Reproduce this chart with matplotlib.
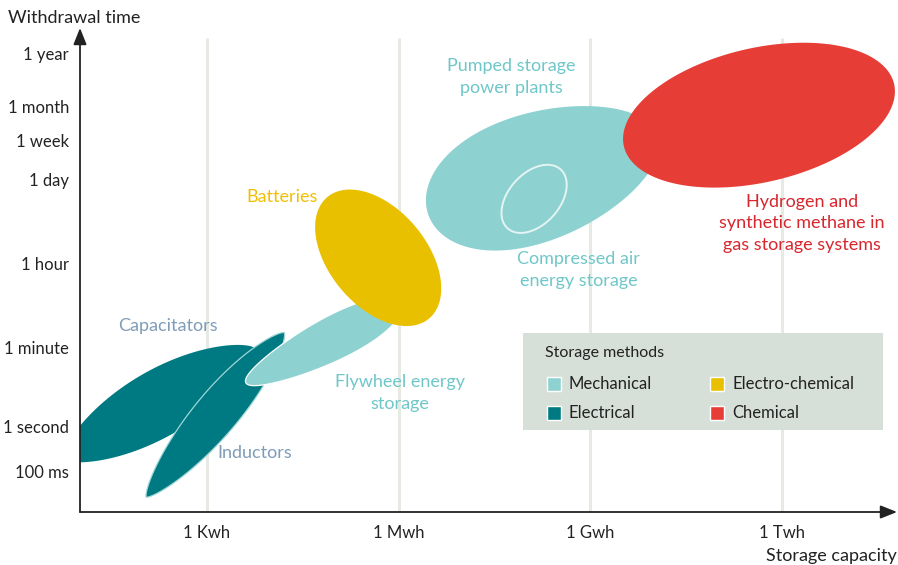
import numpy as np
import matplotlib
matplotlib.use("Agg")
import matplotlib.pyplot as plt
from matplotlib.patches import Polygon, Rectangle
from matplotlib.transforms import Affine2D

plt.rcParams['font.family'] = ['Lato', 'DejaVu Sans']

# ---- axis data ----
cap_tick_log10_wh = [3, 6, 9, 12]
cap_tick_labels = ["1 Kwh", "1 Mwh", "1 Gwh", "1 Twh"]
time_tick_levels = [-1.0, 0.0, 1.76, 3.64, 5.49, 6.36, 7.13, 8.31]
time_tick_labels = ["100 ms", "1 second", "1 minute", "1 hour", "1 day", "1 week", "1 month", "1 year"]

# ---- technologies (capacity in log10 Wh, time in axis levels) ----
tech_names = ["Capacitators", "Inductors", "Flywheel", "Batteries", "Pumped storage", "Hydrogen"]
tech_method = ["Electrical", "Electrical", "Mechanical", "Electro-chemical", "Mechanical", "Chemical"]
cap_center = [2.24, 3.13, 4.82, 5.68, 8.26, 11.64]
time_center = [0.52, 0.27, 1.86, 3.76, 5.60, 6.93]
cap_span = [1.74, 1.68, 1.36, 1.24, 1.90, 2.17]
thickness = [0.52, 0.34, 0.34, 0.76, 1.00, 1.05]
tilt_deg = [30, 50, 27, -50, 19, 13]
asym = [0.0, 0.05, 0.22, 0.0, -0.12, 0.0]
pointy = [0.45, 0.45, 0.0, 0.0, 0.0, 0.0]

# compressed air (outline inside pumped storage)
caes_center = (8.12, 5.07)
caes_span, caes_thick, caes_tilt = 0.62, 0.40, 48

method_names = ["Mechanical", "Electrical", "Electro-chemical", "Chemical"]
method_colors = {"Mechanical": "#8ed1d1", "Electrical": "#007a82",
                 "Electro-chemical": "#e9c000", "Chemical": "#e63d36"}

W, H, DPI = 898, 565, 100
fig = plt.figure(figsize=(W / DPI, H / DPI), dpi=DPI)
ax_l, ax_r, ax_b, ax_t = 80, 897, 512, 28
ax = fig.add_axes([ax_l / W, (H - ax_b) / H, (ax_r - ax_l) / W, (ax_b - ax_t) / H])
xlim = (1.013, 13.8)
ylim = (-1.889, 8.867)
ax.set_xlim(*xlim)
ax.set_ylim(*ylim)
for s in ax.spines.values():
    s.set_visible(False)

k = ((ax_r - ax_l) / (xlim[1] - xlim[0])) / ((ax_b - ax_t) / (ylim[1] - ylim[0]))


def blob(cx, cy, a, b, ang, e=0.0, p=0.0, **kw):
    t = np.linspace(0, 2 * np.pi, 400)
    x = a * np.cos(t)
    y = b * np.sin(t) * np.abs(np.sin(t)) ** p * (1 + e * np.cos(t))
    tr = Affine2D().rotate_deg(ang).scale(1, k).translate(cx, cy) + ax.transData
    poly = Polygon(np.column_stack([x, y]), closed=True, transform=tr, **kw)
    ax.add_patch(poly)
    return poly


# gridlines
grid_top = (ylim[1] - ylim[0]) * (1 - (38 - ax_t) / (ax_b - ax_t)) + ylim[0]
for xv in cap_tick_log10_wh:
    ax.plot([xv, xv], [ylim[0], grid_top], color="#e5eae3", lw=2.2, zorder=0.5, solid_capstyle="butt")

zorders = [1, 2, 3, 4, 3, 6]
edges = ["none", "#9fd6d6", "#ffffff", "none", "none", "none"]
for i, name in enumerate(tech_names):
    blob(cap_center[i], time_center[i], cap_span[i], thickness[i], tilt_deg[i],
         asym[i], pointy[i], facecolor=method_colors[tech_method[i]],
         edgecolor=edges[i], lw=0.9, zorder=zorders[i])

blob(caes_center[0], caes_center[1], caes_span, caes_thick, caes_tilt,
     facecolor="none", edgecolor="#e4f4f3", lw=1.4, zorder=5)

# axes arrows
ax.annotate("", xy=(0, 1.0), xytext=(0, 0), xycoords="axes fraction",
            arrowprops=dict(arrowstyle="-|>,head_length=1.0,head_width=0.4", color="#222222", lw=1.3,
                            shrinkA=0, shrinkB=0), annotation_clip=False)
ax.annotate("", xy=(1.0, 0), xytext=(0, 0), xycoords="axes fraction",
            arrowprops=dict(arrowstyle="-|>,head_length=1.0,head_width=0.4", color="#222222", lw=1.3,
                            shrinkA=0, shrinkB=0), annotation_clip=False)

ax.set_xticks(cap_tick_log10_wh)
ax.set_xticklabels(cap_tick_labels)
ax.set_yticks(time_tick_levels)
ax.set_yticklabels(time_tick_labels)
ax.tick_params(length=0, labelsize=12, colors="#222222")
ax.tick_params(axis="x", pad=9)
ax.tick_params(axis="y", pad=8)

fig.text(8 / W, 1 - 18 / H, "Withdrawal time", fontsize=13, color="#222222", ha="left", va="center")
fig.text(897 / W, 1 - 556 / H, "Storage capacity", fontsize=13, color="#222222", ha="right", va="center")

teal_txt = "#6fc7c9"
lab = dict(fontsize=13, ha="center", va="center", linespacing=1.42, zorder=8)
labels_text = ["Pumped storage\npower plants", "Batteries", "Compressed air\nenergy storage",
               "Hydrogen and\nsynthetic methane in\ngas storage systems", "Capacitators",
               "Flywheel energy\nstorage", "Inductors"]
labels_x = [7.77, 4.17, 8.82, 12.31, 2.39, 6.02, 3.75]
labels_y = [7.78, 5.11, 3.49, 4.53, 2.24, 0.76, -0.58]
labels_col = [teal_txt, "#f2be00", teal_txt, "#d8262e", "#7f9cb8", teal_txt, "#7f9cb8"]
for t_, x_, y_, c_ in zip(labels_text, labels_x, labels_y, labels_col):
    ax.text(x_, y_, t_, color=c_, **lab)


# legend box (figure pixel coords)
def fx(px):
    return px / W


def fy(py):
    return 1 - py / H


fig.patches.append(Rectangle((fx(523), fy(430)), fx(883) - fx(523), fy(333) - fy(430),
                             transform=fig.transFigure, facecolor="#d7e0d8", edgecolor="none", zorder=10))
fig.text(fx(545), fy(353), "Storage methods", fontsize=11.5, color="#222222", va="center", zorder=11)
leg_pos = [(547, 384), (547, 413), (710, 384), (710, 413)]
for m, (px, py) in zip(method_names, leg_pos):
    fig.patches.append(Rectangle((fx(px), fy(py + 7)), fx(14), 14 / H, transform=fig.transFigure,
                                 facecolor=method_colors[m], edgecolor="#ffffff", lw=1.0, zorder=11))
    fig.text(fx(px + 22), fy(py), m, fontsize=12, color="#222222", va="center", zorder=11)

fig.savefig("out.png", dpi=DPI)
